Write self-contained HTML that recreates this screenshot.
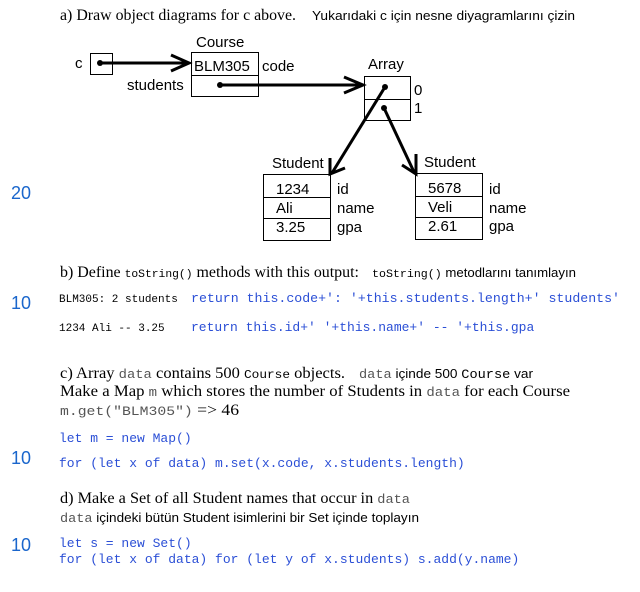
<!DOCTYPE html>
<html><head><meta charset="utf-8"><style>
body{margin:0;width:640px;height:592px;background:#fff;overflow:hidden}
svg{position:absolute;left:0;top:0}
.s{font-family:"Liberation Sans",sans-serif}
.r{font-family:"Liberation Serif",serif}
.m{font-family:"Liberation Mono",monospace}
</style></head><body>
<svg width="640" height="592" viewBox="0 0 640 592">
<g fill="#000">
<text x="60" y="20" class="r" font-size="15.5" textLength="236" lengthAdjust="spacingAndGlyphs">a) Draw object diagrams for c above.</text>
<text x="312" y="20" class="s" font-size="13" textLength="263" lengthAdjust="spacingAndGlyphs">Yukarıdaki c için nesne diyagramlarını çizin</text>
</g>
<g fill="none" stroke="#000" stroke-width="1">
<rect x="90.5" y="53.5" width="22" height="21"/>
<rect x="191.5" y="52.5" width="67" height="44"/><line x1="191" y1="75.5" x2="258" y2="75.5"/>
<rect x="364.5" y="76.5" width="46" height="44"/><line x1="364" y1="99.5" x2="410" y2="99.5"/>
<rect x="263.5" y="174.5" width="67" height="66"/><line x1="263" y1="197.5" x2="330" y2="197.5"/><line x1="263" y1="218.5" x2="330" y2="218.5"/>
<rect x="415.5" y="173.5" width="67" height="66"/><line x1="415" y1="196.5" x2="482" y2="196.5"/><line x1="415" y1="217.5" x2="482" y2="217.5"/>
</g>
<g stroke="#000" stroke-width="3" fill="none">
<line x1="100" y1="63" x2="188" y2="63"/><polyline points="171,55 189,63 171,71"/>
<line x1="220" y1="85" x2="362" y2="85"/><polyline points="344,77 363,85 344,93"/>
<line x1="385" y1="87" x2="332" y2="173"/><polyline points="330,158 330,174 345,168"/>
<line x1="384" y1="108" x2="414" y2="172"/><polyline points="416,154 416,174 402,165"/>
</g>
<g fill="#000"><circle cx="100" cy="63" r="3"/><circle cx="220" cy="85" r="3"/><circle cx="385" cy="87" r="3"/><circle cx="384" cy="108" r="3"/></g>
<g class="s" font-size="15" fill="#000">
<text x="75" y="68">c</text>
<text x="196" y="47">Course</text>
<text x="194" y="71">BLM305</text>
<text x="262" y="71">code</text>
<text x="127" y="90">students</text>
<text x="368" y="69">Array</text>
<text x="414" y="95">0</text>
<text x="414" y="113">1</text>
<text x="272" y="168">Student</text>
<text x="276" y="194">1234</text><text x="276" y="213">Ali</text><text x="276" y="232">3.25</text>
<text x="337" y="194">id</text><text x="337" y="213">name</text><text x="337" y="232">gpa</text>
<text x="424" y="167">Student</text>
<text x="428" y="193">5678</text><text x="428" y="212">Veli</text><text x="428" y="231">2.61</text>
<text x="489" y="194">id</text><text x="489" y="213">name</text><text x="489" y="231">gpa</text>
</g>
<g class="s" font-size="18" fill="#1a66cc">
<text x="11" y="199">20</text>
<text x="11" y="309">10</text>
<text x="11" y="464">10</text>
<text x="11" y="551">10</text>
</g>
<g fill="#000">
<text x="60" y="277" class="r" font-size="15.5" textLength="299" lengthAdjust="spacingAndGlyphs">b) Define <tspan class="m" font-size="11">toString()</tspan> methods with this output:</text>
<text x="372" y="277" class="s" font-size="12.5" textLength="204" lengthAdjust="spacingAndGlyphs"><tspan class="m" font-size="11">toString()</tspan> metodlarını tanımlayın</text>
<text x="59" y="302" class="m" font-size="11">BLM305: 2 students</text>
<text x="59" y="331" class="m" font-size="11">1234 Ali -- 3.25</text>
</g>
<g class="m" font-size="13" fill="#2b4fd6">
<text x="191" y="302" textLength="429" lengthAdjust="spacingAndGlyphs">return this.code+': '+this.students.length+' students'</text>
<text x="191" y="331">return this.id+' '+this.name+' -- '+this.gpa</text>
<text x="59" y="442">let m = new Map()</text>
<text x="59" y="467">for (let x of data) m.set(x.code, x.students.length)</text>
<text x="59" y="547">let s = new Set()</text>
<text x="59" y="563">for (let x of data) for (let y of x.students) s.add(y.name)</text>
</g>
<g fill="#000">
<text x="60" y="378" class="r" font-size="15.5" textLength="285" lengthAdjust="spacingAndGlyphs">c) Array <tspan class="m" font-size="13" fill="#555">data</tspan> contains 500 <tspan class="m" font-size="12">Course</tspan> objects.</text>
<text x="359" y="378" class="s" font-size="13" textLength="174" lengthAdjust="spacingAndGlyphs"><tspan class="m" font-size="13" fill="#555">data</tspan> içinde 500 <tspan class="m">Course</tspan> var</text>
<text x="60" y="396" class="r" font-size="15.5" textLength="510" lengthAdjust="spacingAndGlyphs">Make a Map <tspan class="m" font-size="13" fill="#555">m</tspan> which stores the number of Students in <tspan class="m" font-size="13" fill="#555">data</tspan> for each Course</text>
<text x="60" y="415" class="r" font-size="15.5" textLength="179" lengthAdjust="spacingAndGlyphs"><tspan class="m" font-size="13" fill="#555">m.get("BLM305")</tspan> =&gt; 46</text>
<text x="60" y="503" class="r" font-size="15.5" textLength="350" lengthAdjust="spacingAndGlyphs">d) Make a Set of all Student names that occur in <tspan class="m" font-size="13" fill="#555">data</tspan></text>
<text x="60" y="522" class="s" font-size="13" textLength="359" lengthAdjust="spacingAndGlyphs"><tspan class="m" font-size="13" fill="#555">data</tspan> içindeki bütün Student isimlerini bir Set içinde toplayın</text>
</g>
</svg>
</body></html>
